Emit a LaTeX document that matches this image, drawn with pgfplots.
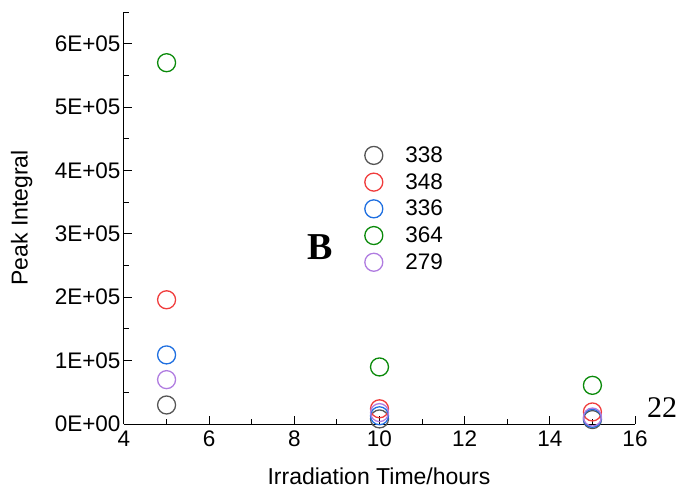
\documentclass[border=0pt]{standalone}
\usepackage{pgfplots}
\pgfplotsset{compat=1.18}
\usepackage{fontspec}
\setmainfont{Liberation Sans}
\newfontfamily\serifb{Liberation Serif}
\definecolor{cgray}{HTML}{555555}
\definecolor{cred}{HTML}{F03C3C}
\definecolor{cblue}{HTML}{1F6FE0}
\definecolor{cgreen}{HTML}{0A8A0A}
\definecolor{cpurple}{HTML}{B07CE0}
\begin{document}
\begin{tikzpicture}
\path[use as bounding box] (-124pt,-64pt) rectangle (558pt,424pt);
\begin{axis}[
  at={(0pt,0pt)}, anchor=south west,
  scale only axis, width=511pt, height=412pt,
  xmin=4, xmax=16, ymin=0, ymax=650000,
  axis x line=bottom, axis y line=left,
  axis line style={-, line width=1pt},
  xtick={4,6,...,16}, minor xtick={5,7,...,15},
  ytick={0,100000,...,600000},
  yticklabels={0E+00,1E+05,2E+05,3E+05,4E+05,5E+05,6E+05},
  minor ytick={50000,150000,...,650000},
  scaled y ticks=false,
  tick align=inside,
  major tick length=8pt, minor tick length=5pt,
  every tick/.style={black, line width=1pt},
  tick label style={font=\fontsize{22.5}{22.5}\selectfont},
  xticklabel style={yshift=-3pt},
  /pgf/number format/assume math mode=true,
  xlabel={Irradiation Time/hours},
  ylabel={Peak Integral},
  label style={font=\fontsize{23}{23}\selectfont},
  xlabel style={at={(rel axis cs:0.499,-0.127)}, anchor=center},
  ylabel style={at={(rel axis cs:-0.2,0.5)}, anchor=center},
  clip=false,
  legend style={draw=none, fill=none, at={(0.465,0.683)}, anchor=north west,
    font=\fontsize{22.5}{22.5}\selectfont, row sep=5.5pt,
    legend cell align=left},
  legend image code/.code={\draw[#1] plot coordinates {(0.3cm,0cm)};
    \path (0.3cm,0pt) ++(29pt,0pt);},
  every axis plot/.append style={only marks, mark=o, mark size=9pt, line width=1.3pt},
]
\addplot[cgray] coordinates {(5,30000) (10,8000) (15,7000)};
\addlegendentry{338}
\addplot[cred] coordinates {(5,196000) (10,24000) (15,19000)};
\addlegendentry{348}
\addplot[cblue] coordinates {(5,109000) (10,13000) (15,9000)};
\addlegendentry{336}
\addplot[cgreen] coordinates {(5,570000) (10,90000) (15,61000)};
\addlegendentry{364}
\addplot[cpurple] coordinates {(5,70000) (10,18000) (15,11000)};
\addlegendentry{279}
\node[font=\serifb\bfseries\fontsize{38}{38}\selectfont] at (axis cs:8.6,279500) {B};
\node[font=\serifb\fontsize{30}{30}\selectfont] at (rel axis cs:1.053,0.041) {22};
\end{axis}
\end{tikzpicture}
\end{document}
